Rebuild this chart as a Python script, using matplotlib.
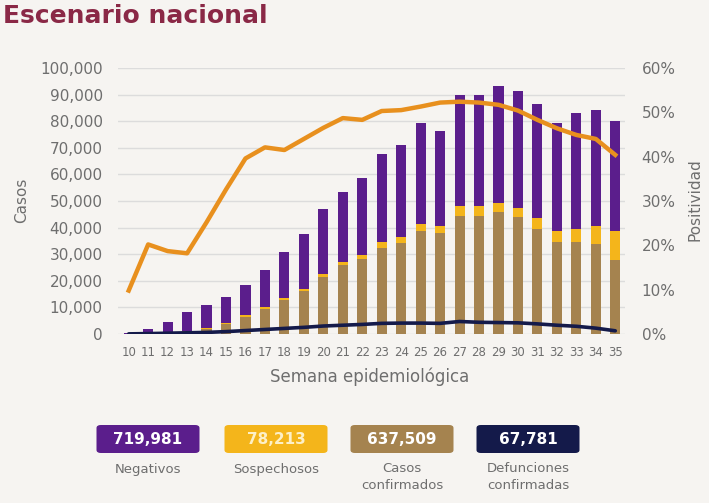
import matplotlib
matplotlib.use("Agg")
import matplotlib.pyplot as plt
from matplotlib.patches import FancyBboxPatch
import numpy as np

weeks = list(range(10, 36))
confirmados = [50, 200, 400, 900, 1900, 3800, 6500, 9500, 12800, 16300, 21500, 26000, 28300,
               32500, 34300, 38700, 37800, 44400, 44400, 45700, 44100, 39400, 34700, 34700, 34000, 27800]
sospechosos = [10, 30, 50, 100, 200, 300, 500, 600, 700, 800, 1000, 1200, 1400,
               2000, 2000, 2600, 2800, 3800, 3800, 3400, 3400, 4100, 4000, 4900, 6600, 10900]
negativos = [440, 1570, 3950, 7400, 8800, 9900, 11300, 13800, 17500, 20600, 24600, 26200, 28800,
             33000, 34700, 37900, 35700, 41800, 41800, 44200, 43800, 42800, 40700, 43600, 43600, 41500]
defunciones = [50, 150, 300, 450, 600, 900, 1300, 1700, 2100, 2500, 3000, 3300, 3600,
               4000, 4100, 4100, 4000, 4700, 4400, 4300, 4200, 3800, 3300, 2900, 2200, 1200]
positividad = [9.8, 20.2, 18.7, 18.2, 25.2, 32.6, 39.6, 42.1, 41.5, 44.0, 46.5, 48.7, 48.3,
               50.3, 50.5, 51.3, 52.2, 52.4, 52.2, 51.7, 50.4, 48.3, 46.4, 44.9, 44.0, 40.4]

totals_labels = ["719,981", "78,213", "637,509", "67,781"]
totals_names = ["Negativos", "Sospechosos", "Casos\nconfirmados", "Defunciones\nconfirmadas"]

PURPLE = "#5b1e8c"
YELLOW = "#f4b51b"
TAN = "#a5834f"
NAVY = "#141a4a"
ORANGE = "#e8901e"
GRAY = "#6e6e6e"
BG = "#f6f4f1"

plt.rcParams['font.family'] = ['DejaVu Sans']

W, H = 709, 503
fig = plt.figure(figsize=(W / 100, H / 100), dpi=100, facecolor=BG)

def fx(px):
    return px / W

def fy(py):
    return 1 - py / H

ax = fig.add_axes([fx(118), fy(334), fx(625) - fx(118), fy(68) - fy(334)])
ax.set_facecolor("none")

x = np.array(weeks)
conf = np.array(confirmados)
sosp = np.array(sospechosos)
neg = np.array(negativos)
bw = 0.52
ax.bar(x, conf, width=bw, color=TAN, zorder=2)
ax.bar(x, sosp, width=bw, bottom=conf, color=YELLOW, zorder=2)
ax.bar(x, neg, width=bw, bottom=conf + sosp, color=PURPLE, zorder=2)
ax.plot(x, defunciones, color=NAVY, lw=2.6, zorder=3, solid_capstyle='round')

ax.set_xlim(9.45, 35.5)
ax.set_ylim(0, 100000)
ax.set_yticks(np.arange(0, 100001, 10000))
ax.set_yticklabels([f"{v:,}" for v in range(0, 100001, 10000)])
ax.set_xticks(weeks)
ax.set_xticklabels([str(w) for w in weeks])
ax.grid(axis='y', color="#dcdcdc", lw=1, zorder=0)
for s in ax.spines.values():
    s.set_visible(False)
ax.tick_params(axis='y', length=0, pad=11, labelsize=11, labelcolor=GRAY)
ax.tick_params(axis='x', length=0, pad=9, labelsize=8.5, labelcolor=GRAY)

ax2 = ax.twinx()
ax2.plot(x, positividad, color=ORANGE, lw=3.2, zorder=4, solid_joinstyle='round')
ax2.set_ylim(0, 60)
ax2.set_yticks(np.arange(0, 61, 10))
ax2.set_yticklabels([f"{v}%" for v in range(0, 61, 10)])
for s in ax2.spines.values():
    s.set_visible(False)
ax2.tick_params(axis='y', length=0, pad=12, labelsize=11, labelcolor=GRAY)

fig.text(fx(22), fy(200), "Casos", rotation=90, ha='center', va='center', fontsize=11, color=GRAY)
fig.text(fx(695), fy(200), "Positividad", rotation=90, ha='center', va='center', fontsize=11, color=GRAY)
fig.text(fx(370), fy(377), "Semana epidemiológica", ha='center', va='center', fontsize=12, color=GRAY)

fig.text(fx(3), fy(16), "Escenario nacional", ha='left', va='center', fontsize=18,
         fontweight='bold', color="#8a2846")

box_colors = [PURPLE, YELLOW, TAN, NAVY]
text_colors = ["white", "#fdf0c8", "white", "white"]
centers = [148, 276, 402, 528]
bw_px, bh_px = 103, 28
for cx, col, tc, val, name in zip(centers, box_colors, text_colors, totals_labels, totals_names):
    p = FancyBboxPatch((fx(cx - bw_px / 2), fy(439 + bh_px / 2)), fx(bw_px), bh_px / H,
                       boxstyle="round,pad=0,rounding_size=0.006", transform=fig.transFigure,
                       facecolor=col, edgecolor='none')
    fig.patches.append(p)
    fig.text(fx(cx), fy(439), val, ha='center', va='center', fontsize=11, fontweight='bold', color=tc)
    if "\n" in name:
        fig.text(fx(cx), fy(477), name, ha='center', va='center', fontsize=9.5, color=GRAY,
                 linespacing=1.45)
    else:
        fig.text(fx(cx), fy(470), name, ha='center', va='center', fontsize=9.5, color=GRAY)

fig.savefig("out.png", dpi=100, facecolor=BG)
